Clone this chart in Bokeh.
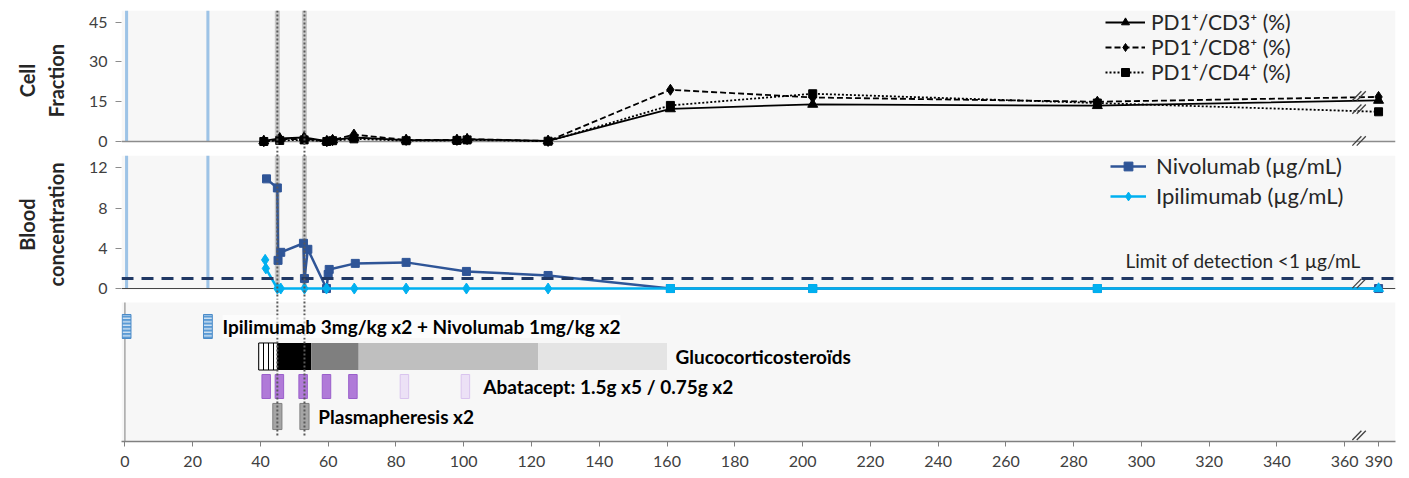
from bokeh.plotting import figure
from bokeh.layouts import column
from bokeh.models import (Range1d, FixedTicker, Span, BoxAnnotation, Legend,
                          LegendItem, Label)
from bokeh.core.properties import value
from bokeh.embed import file_html
from bokeh.resources import INLINE

# ---------------- data ----------------
# PD-1 positive T cells (% of parent population) by day since first infusion
cell_days = [41, 45.7, 52.9, 59.6, 61.3, 67.6, 83, 98, 101, 124.9, 161, 203, 287, 390]
pd1_cd3 = [0.2, 1.2, 1.5, 0.1, 0.5, 1.5, 0.5, 0.5, 0.8, 0.2, 12.3, 14.0, 13.5, 15.5]
pd1_cd8 = [0.1, 0.8, 1.0, 0.1, 0.5, 2.6, 0.6, 0.6, 0.9, 0.2, 19.5, 16.6, 15.0, 16.8]
pd1_cd4 = [0.0, 0.4, 0.6, 0.0, 0.3, 1.0, 0.3, 0.4, 0.6, 0.1, 13.6, 18.0, 14.5, 11.2]

# Serum antibody levels (µg/mL)
nivo_days = [41.8, 45, 45.2, 46, 52.7, 53, 54, 59.5, 60, 60.3, 68, 83, 100.8, 124.9, 161, 203, 287, 390]
nivo_conc = [10.9, 10.0, 2.8, 3.6, 4.5, 1.0, 3.9, 0.0, 1.4, 1.9, 2.5, 2.6, 1.7, 1.3, 0, 0, 0, 0]
ipi_days = [41.4, 41.6, 45, 46, 53, 59.5, 67.7, 83, 100.8, 124.9, 161, 203, 287, 390]
ipi_conc = [2.85, 2.0, 0, 0, 0, 0, 0, 0, 0, 0, 0, 0, 0, 0]
detection_limit = 1.0

# Treatment timeline
infusion_days = [0.5, 24.5]
plasmapheresis_days = [45, 53]
gc_start = [39.5, 45, 55, 69, 122]
gc_end = [45, 55, 69, 122, 160]
abatacept_days = [41.7, 45.6, 52.6, 59.5, 67.3, 82.5, 100.5]
abatacept_dose = [1.5, 1.5, 1.5, 1.5, 1.5, 0.75, 0.75]

x_tick_days = list(range(0, 361, 20)) + [390]

# ---------------- helpers ----------------
FONT = "Lato"
X0, X1 = -1, 375
FRAME_W = 1274
LEFT = 121
x_range = Range1d(X0, X1)


def xb(d):
    """Broken time axis: everything after day 360 is compressed 3:1."""
    if d <= 360:
        return d
    return 360 + (d - 360) // 3 if isinstance(d, int) else 360 + (d - 360) / 3


def base_fig(frame_h, yr, top_border, bottom_border, xaxis=False, yaxis=True):
    p = figure(frame_width=FRAME_W, frame_height=frame_h, x_range=x_range, y_range=yr,
               output_backend="svg", toolbar_location=None,
               x_axis_location="below" if xaxis else None,
               y_axis_location="left" if yaxis else None,
               min_border_left=LEFT, min_border_right=14,
               min_border_top=top_border, min_border_bottom=bottom_border)
    p.background_fill_color = "white"
    p.border_fill_color = "white"
    p.outline_line_color = None
    p.grid.visible = False
    return p


def style_yaxis(p, ticks, title):
    ax = p.yaxis[0]
    ax.ticker = FixedTicker(ticks=ticks, minor_ticks=[])
    ax.axis_line_color = None
    ax.major_tick_line_color = "#8c8c8c"
    ax.major_tick_out = 6
    ax.major_tick_in = 0
    ax.minor_tick_line_color = None
    ax.major_label_text_font = FONT
    ax.major_label_text_font_size = "16px"
    ax.major_label_text_color = "#404040"
    ax.major_label_standoff = 8
    ax.axis_label = title
    ax.axis_label_text_font = FONT
    ax.axis_label_text_font_style = "bold"
    ax.axis_label_text_font_size = "20px"
    ax.axis_label_text_color = "#262626"
    ax.axis_label_standoff = 18


def add_break(p, y):
    p.scatter([363.6, 364.9], [y, y], marker="dash", size=13, angle=0.8,
              line_color="#404040", line_width=1.3)


def add_bands(p, top):
    # first-line infusion days (blue) and plasmapheresis days (grey band)
    for d in infusion_days:
        p.add_layout(BoxAnnotation(left=d - 0.45, right=d + 0.45, bottom=0, top=top,
                                   fill_color="#9dc3e6", fill_alpha=1, line_color=None,
                                   level="underlay"))
    for d in plasmapheresis_days:
        p.add_layout(BoxAnnotation(left=d - 0.75, right=d + 0.75, bottom=0, top=top,
                                   fill_color="#c9c9c9", fill_alpha=1, line_color=None,
                                   level="underlay"))


def add_dotted(p):
    for d in plasmapheresis_days:
        p.add_layout(Span(location=d, dimension="height", line_color="#595959",
                          line_dash="2 2", line_width=2))


# ---------------- cell fraction panel ----------------
top_yr = Range1d(-3.4, 49.4)
top = base_fig(140, top_yr, 10, 0)
top.add_layout(BoxAnnotation(left=X0, right=X1, bottom=0, top=top_yr.end, fill_color="#f7f7f7",
                             fill_alpha=1, line_color=None, level="underlay"))
add_bands(top, top_yr.end)
top.add_layout(Span(location=0, dimension="width", line_color="#8c8c8c", line_width=1.5,
                    level="underlay"))
style_yaxis(top, [0, 15, 30, 45], "Cell\nFraction")

cx = [xb(d) for d in cell_days]
items = []
for label, vals, dash, marker, size in [
        ("PD1\u207a/CD3\u207a (%)", pd1_cd3, "solid", "triangle", 10),
        ("PD1\u207a/CD8\u207a (%)", pd1_cd8, "6 3", "diamond", 11),
        ("PD1\u207a/CD4\u207a (%)", pd1_cd4, "2 2", "square", 8)]:
    rl = top.line(cx, vals, line_color="black", line_width=1.8, line_dash=dash)
    rm = top.scatter(cx, vals, marker=marker, size=size, fill_color="black", line_color="black")
    items.append(LegendItem(label=label, renderers=[rl, rm]))
add_dotted(top)
for yb in (17.2, 12.2, 0.2):
    add_break(top, yb)
top.add_layout(Legend(items=items, location=(984, 66), background_fill_alpha=0,
                      border_line_color=None, padding=0, margin=0, spacing=0,
                      glyph_width=40, glyph_height=20, label_height=20, label_standoff=6,
                      label_text_font=FONT, label_text_font_size="21px",
                      label_text_color="#262626"))

# ---------------- blood concentration panel ----------------
mid_yr = Range1d(-0.99, 13.72)
mid_top = 13.2
mid = base_fig(148, mid_yr, 0, 0)
mid.add_layout(BoxAnnotation(left=X0, right=X1, bottom=0, top=mid_top, fill_color="#f7f7f7",
                             fill_alpha=1, line_color=None, level="underlay"))
add_bands(mid, mid_top)
mid.add_layout(Span(location=0, dimension="width", line_color="#404040", line_width=1,
                    level="underlay"))
style_yaxis(mid, [0, 4, 8, 12], "Blood\nconcentration")

nx = [xb(d) for d in nivo_days]
rn_l = mid.line(nx, nivo_conc, line_color="#2f5597", line_width=2.5)
rn_m = mid.scatter(nx, nivo_conc, marker="square", size=8, fill_color="#2f5597",
                   line_color="#2f5597")
ix = [xb(d) for d in ipi_days]
ri_l = mid.line(ix, ipi_conc, line_color="#00b0f0", line_width=2.5)
early = [i for i, d in enumerate(ipi_days) if d < 150]
late = [i for i, d in enumerate(ipi_days) if 150 <= d <= 360]
last = [i for i, d in enumerate(ipi_days) if d > 360]
ri_m = mid.scatter([ix[i] for i in early], [ipi_conc[i] for i in early], marker="diamond",
                   size=11, fill_color="#00b0f0", line_color="#00b0f0")
mid.scatter([ix[i] for i in late], [ipi_conc[i] for i in late], marker="square",
            size=8, fill_color="#00b0f0", line_color="#00b0f0")
mid.scatter([ix[i] for i in last], [ipi_conc[i] for i in last], marker="triangle",
            size=10, fill_color="#00b0f0", line_color="#00b0f0")
mid.add_layout(Span(location=detection_limit, dimension="width", line_color="#203864",
                    line_width=3, line_dash="12 8"))
mid.add_layout(Label(x=364.7, y=detection_limit, y_offset=6, text="Limit of detection <1 \u00b5g/mL",
                     text_align="right", text_baseline="bottom", text_font=FONT,
                     text_font_size="19px", text_color="#262626"))
add_dotted(mid)
add_break(mid, 0.5)
mid.add_layout(Legend(items=[LegendItem(label="Nivolumab (\u00b5g/mL)", renderers=[rn_l, rn_m]),
                             LegendItem(label="Ipilimumab (\u00b5g/mL)", renderers=[ri_l, ri_m])],
                      location=(989, 89), background_fill_alpha=0, border_line_color=None,
                      padding=0, margin=0, spacing=3, glyph_width=36, glyph_height=22,
                      label_height=22, label_standoff=10, label_text_font=FONT,
                      label_text_font_size="22px", label_text_color="#262626"))

# ---------------- treatment timeline panel ----------------
bot_yr = Range1d(0.1667, 4.9333)
bot_top = 4.8
bot = base_fig(143, bot_yr, 0, 37, xaxis=True, yaxis=False)
bot.add_layout(BoxAnnotation(left=X0, right=X1, bottom=bot_yr.start, top=bot_top,
                             fill_color="#f7f7f7", fill_alpha=1, line_color=None,
                             level="underlay"))
bot.segment(x0=0, y0=bot_yr.start, x1=0, y1=bot_top, line_color="#a6a6a6", line_width=1.5)

ROW_INF, ROW_GC, ROW_ABA, ROW_PP = 4, 3, 2, 1
LABEL_SIZE = "19px"

# checkpoint inhibitor infusions
bot.rect(x=infusion_days, y=ROW_INF, width=2.6, height=0.8, fill_color="#5b9bd5",
         line_color="#4a8ac8", hatch_pattern="horizontal_line", hatch_color="white",
         hatch_scale=3.5, hatch_weight=1)
bot.add_layout(Label(x=28.8, y=ROW_INF, text="Ipilimumab 3mg/kg x2 + Nivolumab 1mg/kg x2",
                     text_baseline="middle", text_font=FONT, text_font_style="bold",
                     text_font_size=LABEL_SIZE, text_color="black",
                     background_fill_color="white", background_fill_alpha=0.6))

# glucocorticoid taper (darker = higher dose)
gc_colors = ["white", "black", "#7f7f7f", "#bfbfbf", "#e4e4e4"]
bot.quad(left=gc_start[:1], right=gc_end[:1], bottom=ROW_GC - 0.45, top=ROW_GC + 0.45,
         fill_color="white", line_color="black", line_width=1,
         hatch_pattern="vertical_line", hatch_color="black", hatch_scale=5, hatch_weight=1)
bot.quad(left=gc_start[1:], right=gc_end[1:], bottom=ROW_GC - 0.45, top=ROW_GC + 0.45,
         fill_color=gc_colors[1:], line_color=None)
bot.text(x=[162.5], y=[ROW_GC], text=["Glucocorticosteroïds"], text_baseline="middle",
         text_font=value(FONT), text_font_style="bold", text_font_size=LABEL_SIZE,
         text_color="black")

# abatacept infusions
aba_fill = ["#b07ad8" if d >= 1 else "#ece1f6" for d in abatacept_dose]
aba_line = ["#9a5fcb" if d >= 1 else "#d9c4ee" for d in abatacept_dose]
bot.rect(x=abatacept_days, y=ROW_ABA, width=2.5, height=0.8, fill_color=aba_fill,
         line_color=aba_line, line_width=1)
bot.text(x=[105.8], y=[ROW_ABA], text=["Abatacept: 1.5g x5 / 0.75g x2"], text_baseline="middle",
         text_font=value(FONT), text_font_style="bold", text_font_size=LABEL_SIZE,
         text_color="black")

# plasmapheresis sessions
bot.rect(x=plasmapheresis_days, y=ROW_PP, width=2.7, height=0.87, fill_color="#a5a5a5",
         line_color="#7f7f7f", line_width=1)
bot.text(x=[57.1], y=[ROW_PP], text=["Plasmapheresis x2"], text_baseline="middle",
         text_font=value(FONT), text_font_style="bold", text_font_size=LABEL_SIZE,
         text_color="black")

for d in plasmapheresis_days:
    bot.segment(x0=d, y0=0.37, x1=d, y1=bot_yr.end, line_color="#595959",
                line_dash="2 2", line_width=2)
add_break(bot, 0.37)

xa = bot.xaxis[0]
xa.ticker = FixedTicker(ticks=[xb(t) for t in x_tick_days], minor_ticks=[])
xa.major_label_overrides = {xb(t): str(t) for t in x_tick_days}
xa.axis_line_color = "#808080"
xa.axis_line_width = 1.5
xa.major_tick_line_color = "#808080"
xa.major_tick_out = 5
xa.major_tick_in = 0
xa.minor_tick_line_color = None
xa.major_label_text_font = FONT
xa.major_label_text_font_size = "16px"
xa.major_label_text_color = "#404040"
xa.major_label_standoff = 9

layout = column(top, mid, bot, spacing=0)
open("out.html", "w").write(file_html(layout, INLINE))
